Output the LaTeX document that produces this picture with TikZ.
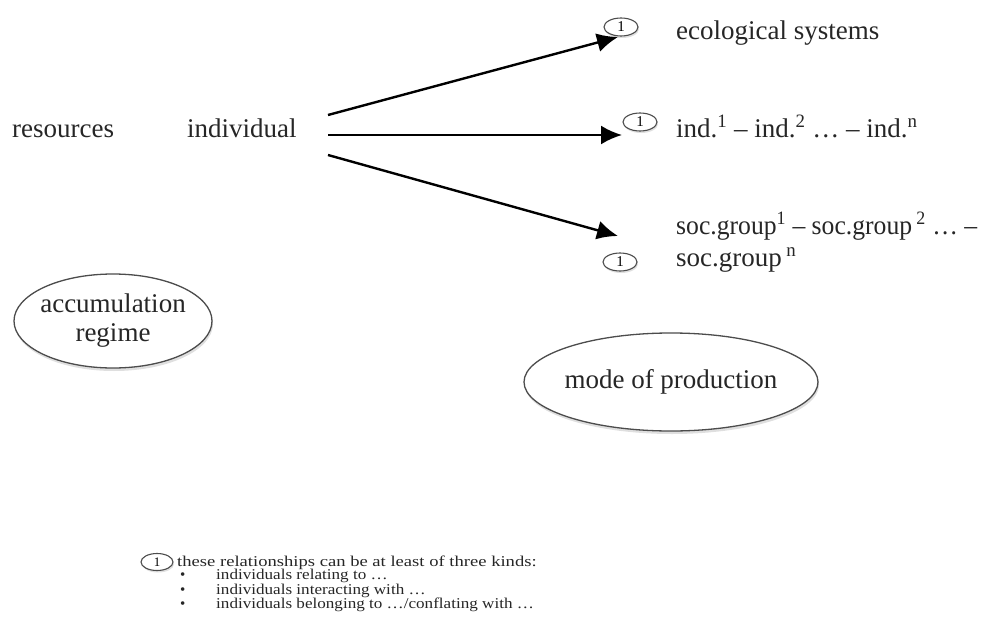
\documentclass[tikz,border=0pt]{standalone}
\usepackage{fontspec}
\setmainfont{Liberation Serif}
\usetikzlibrary{arrows.meta,shapes.geometric,shadows}
\tikzset{
  lbl/.style={font=\fontsize{27}{30}\selectfont, inner sep=0pt, text=black!85},
  bigell/.style={ellipse, draw=black!70, line width=1.3pt, fill=white, font=\fontsize{27}{29}\selectfont, text=black!85, inner sep=0pt, align=center,
     drop shadow={opacity=0.25, shadow xshift=1pt, shadow yshift=-3pt}},
  numell/.style={ellipse, draw=black!70, line width=1.1pt, fill=white, minimum width=34pt, minimum height=18pt, inner sep=0pt, font=\fontsize{15}{15}\selectfont,
     drop shadow={opacity=0.25, shadow xshift=1pt, shadow yshift=-2pt}},
  arr/.style={line width=2.4pt, -{Latex[length=21pt,width=19pt]}},
  foot/.style={font=\fontsize{15}{16}\selectfont, inner sep=0pt, text=black!85, anchor=base west},
}
\newcommand{\fs}[1]{\scalebox{1.24}[1]{#1}}
\newcommand{\fb}[1]{\scalebox{1.14}[1]{#1}}
\newcommand{\mb}[1]{\makebox[100pt][c]{#1}}
\begin{document}
\begin{tikzpicture}[x=1pt,y=-1pt]
\useasboundingbox (0,0) rectangle (984,623);
\node[lbl, anchor=base west] (res) at (12,137) {resources};
\node[lbl, anchor=base west] (ind) at (187,137) {individual};
\coordinate (s1) at (328,115);
\coordinate (s2) at (328,135);
\coordinate (s3) at (328,155);
\coordinate (e1) at (618,37);
\coordinate (e2) at (622,135);
\coordinate (e3) at (618,236);
\node[numell] (n1) at (621,27) {1};
\node[numell] (n2) at (640,122) {1};
\node[numell] (n3) at (620,262) {1};
\draw[arr] (s1) -- (e1);
\draw[arr] (s2) -- (e2);
\draw[arr] (s3) -- (e3);
\node[lbl, anchor=base west] (eco) at (676,40) {ecological systems};
\node[lbl, anchor=base west] (indn) at (676,137) {ind.\textsuperscript{1} – ind.\textsuperscript{2} … – ind.\textsuperscript{n}};
\node[lbl, anchor=base west] (soc1) at (676,234) {\scalebox{0.95}[1]{soc.group\textsuperscript{1} – soc.group\,\textsuperscript{2} … –}};
\node[lbl, anchor=base west] (soc2) at (676,266) {soc.group\,\textsuperscript{n}};
\node[bigell, minimum width=198pt, minimum height=94pt] (acc) at (113,321) {\mb{accumulation}\\\mb{regime}};
\node[bigell, minimum width=294pt, minimum height=98pt] (mode) at (671,382) {\mb{mode of production}};
\node[numell, minimum width=32pt, minimum height=17pt, font=\fontsize{13}{13}\selectfont] (n4) at (157,562) {1};
\node[foot] (f0) at (177,566) {\fs{these relationships can be at least of three kinds:}};
\node[foot] (b1) at (180,579.5) {•};
\node[foot] (b2) at (180,594) {•};
\node[foot] (b3) at (180,608.5) {•};
\node[foot] (f1) at (216,579.5) {\fb{individuals relating to …}};
\node[foot] (f2) at (216,594) {\fb{individuals interacting with …}};
\node[foot] (f3) at (216,608.5) {\fb{individuals belonging to …/conflating with …}};
\end{tikzpicture}
\end{document}
